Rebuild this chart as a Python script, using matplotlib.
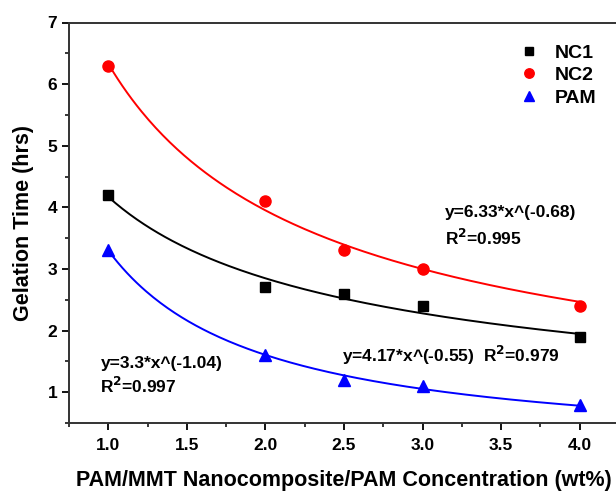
import numpy as np
import matplotlib
matplotlib.use('Agg')
import matplotlib.pyplot as plt
from matplotlib.ticker import MultipleLocator

plt.rcParams['font.family'] = ['Liberation Sans', 'DejaVu Sans']
plt.rcParams['font.weight'] = 'bold'
plt.rcParams['mathtext.default'] = 'bf'

# 数据
conc = [1.0, 2.0, 2.5, 3.0, 4.0]
nc1 = [4.2, 2.7, 2.6, 2.4, 1.9]
nc2 = [6.3, 4.1, 3.3, 3.0, 2.4]
pam = [3.3, 1.6, 1.2, 1.1, 0.8]

# 拟合参数 y = a * x^b (图中标注)
fit_a = {'NC1': 4.17, 'NC2': 6.33, 'PAM': 3.3}
fit_b = {'NC1': -0.55, 'NC2': -0.68, 'PAM': -1.04}

x_ticks = [1.0, 1.5, 2.0, 2.5, 3.0, 3.5, 4.0]
y_ticks = [1, 2, 3, 4, 5, 6, 7]

fig = plt.figure(figsize=(6.16, 4.91), dpi=100)
ax = fig.add_axes([69 / 616, 1 - 423 / 491, 550 / 616, 400.5 / 491])

series = [('NC1', nc1, 'black', 's', 7),
          ('NC2', nc2, 'red', 'o', 8),
          ('PAM', pam, 'blue', '^', 8.5)]

xf = np.linspace(min(conc), max(conc), 200)
for name, vals, color, marker, ms in series:
    ax.plot(conc, vals, linestyle='none', marker=marker, color=color,
            markersize=ms, label=name, zorder=3)
    ax.plot(xf, fit_a[name] * xf ** fit_b[name], color=color, linewidth=1.4, zorder=2)

ax.set_xlim(0.75, 4.25)
ax.set_ylim(0.5, 7)
ax.set_xticks(x_ticks)
ax.set_xticklabels([f'{t:.1f}' for t in x_ticks], fontsize=12.5, fontweight='heavy')
ax.set_yticks(y_ticks)
ax.set_yticklabels([str(t) for t in y_ticks], fontsize=12.5, fontweight='heavy')
ax.xaxis.set_minor_locator(MultipleLocator(0.25))
ax.yaxis.set_minor_locator(MultipleLocator(0.5))
ax.tick_params(which='major', direction='out', length=5, width=1.3)
ax.tick_params(which='minor', direction='out', length=3, width=1.1)
ax.tick_params(axis='x', pad=6)
for sp in ax.spines.values():
    sp.set_linewidth(1.4)
    sp.set_color('#333333')

ax.set_xlabel('PAM/MMT Nanocomposite/PAM Concentration (wt%)', fontsize=15.5,
              fontweight='bold', labelpad=12)
ax.set_ylabel('Gelation Time (hrs)', fontsize=15.5, fontweight='bold', labelpad=10)

fs = 12.5
ax.text(3.14, 3.92, 'y=6.33*x^(-0.68)', fontsize=fs, fontweight='bold', va='center')
ax.text(3.14, 3.5, 'R$^{2}$=0.995', fontsize=fs, fontweight='bold', va='center')
ax.text(2.49, 1.59, 'y=4.17*x^(-0.55)  R$^{2}$=0.979', fontsize=fs,
        fontweight='bold', va='center')
ax.text(0.95, 1.47, 'y=3.3*x^(-1.04)', fontsize=fs, fontweight='bold', va='center')
ax.text(0.95, 1.1, 'R$^{2}$=0.997', fontsize=fs, fontweight='bold', va='center')

leg = ax.legend(loc='upper right', bbox_to_anchor=(0.99, 0.99), frameon=False,
                fontsize=14, handletextpad=0.8, labelspacing=0.25,
                handlelength=1.0, markerscale=0.85)
for t in leg.get_texts():
    t.set_fontweight('bold')

plt.savefig('out.png', dpi=100)
